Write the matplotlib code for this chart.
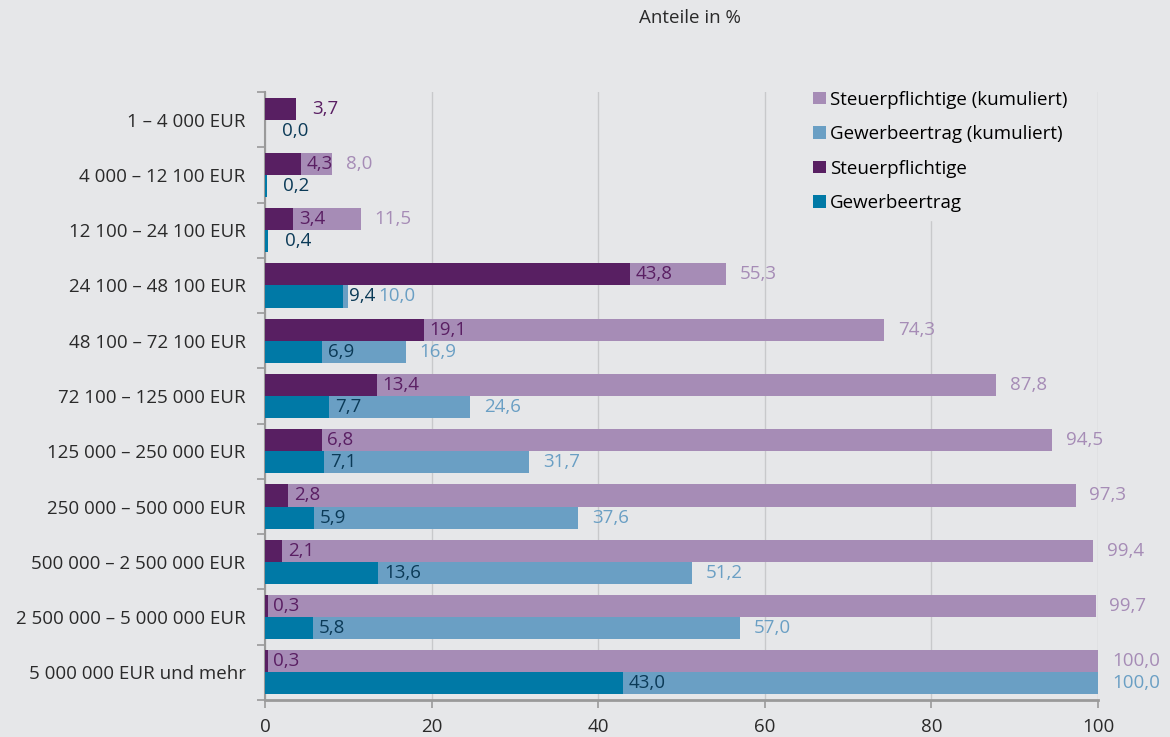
import matplotlib.pyplot as plt
from matplotlib.ticker import FixedLocator
import numpy as np

categories = ["1 – 4 000 EUR", "4 000 – 12 100 EUR", "12 100 – 24 100 EUR",
              "24 100 – 48 100 EUR", "48 100 – 72 100 EUR", "72 100 – 125 000 EUR",
              "125 000 – 250 000 EUR", "250 000 – 500 000 EUR",
              "500 000 – 2 500 000 EUR", "2 500 000 – 5 000 000 EUR",
              "5 000 000 EUR und mehr"]
steuer = [3.7, 4.3, 3.4, 43.8, 19.1, 13.4, 6.8, 2.8, 2.1, 0.3, 0.3]
steuer_kum = [3.7, 8.0, 11.5, 55.3, 74.3, 87.8, 94.5, 97.3, 99.4, 99.7, 100.0]
gewerbe = [0.0, 0.2, 0.4, 9.4, 6.9, 7.7, 7.1, 5.9, 13.6, 5.8, 43.0]
gewerbe_kum = [0.0, 0.2, 0.4, 10.0, 16.9, 24.6, 31.7, 37.6, 51.2, 57.0, 100.0]

bg = '#e6e7e9'
c_st_kum = '#a68cb6'
c_gw_kum = '#6a9fc4'
c_st = '#581f62'
c_gw = '#0079a6'
txt_st = '#5a1f63'
txt_gw = '#0b3a57'
fs = 13.5

plt.rcParams['font.family'] = ['Open Sans', 'DejaVu Sans']
plt.rcParams['font.size'] = fs

fig = plt.figure(figsize=(11.7, 7.37), dpi=100, facecolor=bg)
ax = fig.add_axes([0.2265, 0.0502, 0.712, 0.825], facecolor=bg)

y = np.arange(len(categories))
h = 0.4
ax.barh(y - 0.2, steuer_kum, height=h, color=c_st_kum, label='Steuerpflichtige (kumuliert)', zorder=2)
ax.barh(y + 0.2, gewerbe_kum, height=h, color=c_gw_kum, label='Gewerbeertrag (kumuliert)', zorder=2)
ax.barh(y - 0.2, steuer, height=h, color=c_st, label='Steuerpflichtige', zorder=3)
ax.barh(y + 0.2, gewerbe, height=h, color=c_gw, label='Gewerbeertrag', zorder=3)


def fmt(v):
    return "{:.1f}".format(v).replace('.', ',')


# one data unit is about 6 points wide on this axis
pt_per_unit = 6.0


def label_pair(val, kum, yy, c_dark, c_kum):
    same = kum == val
    ax.annotate(fmt(val), xy=(val, yy), xytext=(12 if same else 4, 0),
                textcoords='offset points', ha='left', va='center', color=c_dark, zorder=4)
    if not same:
        off = max(10, 4 + 18 + 3 - (kum - val) * pt_per_unit)
        ax.annotate(fmt(kum), xy=(kum, yy), xytext=(off, 0),
                    textcoords='offset points', ha='left', va='center', color=c_kum)


for i in range(len(categories)):
    label_pair(steuer[i], steuer_kum[i], i - 0.2, txt_st, c_st_kum)
    label_pair(gewerbe[i], gewerbe_kum[i], i + 0.2, txt_gw, c_gw_kum)

ax.set_xlim(0, 100)
ax.set_ylim(len(categories) - 0.5, -0.5)
ax.set_xticks([0, 20, 40, 60, 80, 100])
ax.set_yticks(y)
ax.set_yticklabels(categories, color='#2a2a2a')
ax.yaxis.set_minor_locator(FixedLocator(np.arange(-0.5, len(categories), 1)))
ax.tick_params(axis='y', which='major', length=0, pad=14)
ax.tick_params(axis='y', which='minor', length=6, color='#9a9a9a', width=1.2)
ax.tick_params(axis='x', length=6, color='#9a9a9a', width=1.2, labelcolor='#2a2a2a', pad=7)

ax.grid(axis='x', color='#c8c9cb', linewidth=1, zorder=0)
ax.set_axisbelow(True)
for s in ['top', 'right']:
    ax.spines[s].set_visible(False)
ax.spines['left'].set_color('#9a9a9a')
ax.spines['left'].set_linewidth(1.5)
ax.spines['bottom'].set_color('#9a9a9a')
ax.spines['bottom'].set_linewidth(2)

leg = ax.legend(loc='upper left', bbox_to_anchor=(0.638, 1.03), frameon=True, facecolor=bg,
                edgecolor=bg, framealpha=1, handlelength=0.65, handleheight=0.65,
                handletextpad=0.25, labelspacing=0.88, borderpad=0.4)
leg.set_zorder(5)

fig.text(0.59, 0.975, "Anteile in %", ha='center', va='center', color='#2a2a2a')

fig.savefig('out.png', dpi=100, facecolor=bg)
